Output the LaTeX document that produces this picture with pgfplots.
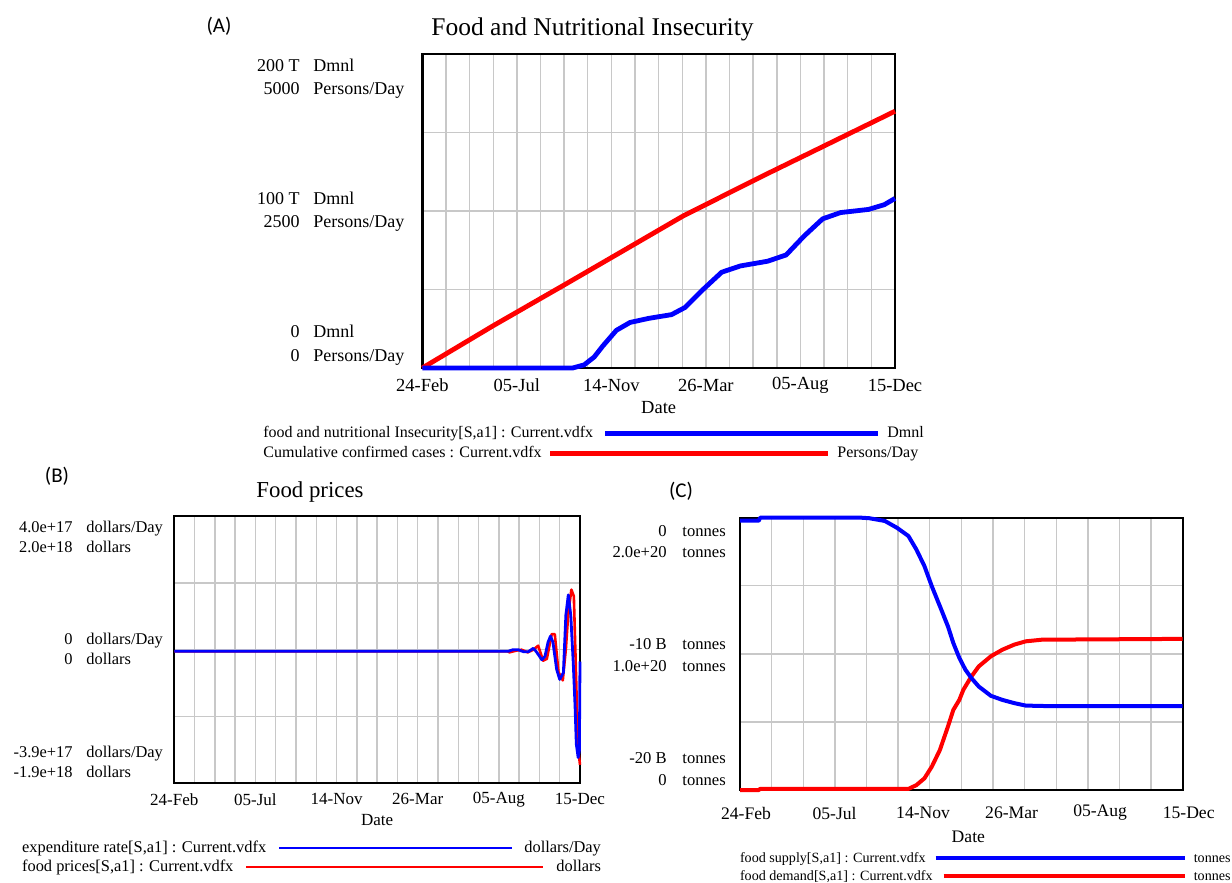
\documentclass[border=0pt]{standalone}
\usepackage{pgfplots}
\pgfplotsset{compat=1.18}
\usepackage{fontspec}
\setmainfont{Liberation Serif}
\newfontfamily\panelfont{Carlito}

\definecolor{vblue}{RGB}{0,0,255}
\definecolor{vred}{RGB}{255,0,0}
\definecolor{vgrid}{RGB}{200,200,200}

\pgfplotsset{
  vensim/.style={
    scale only axis, anchor=south west,
    xmin=0, xmax=660,
    xtick={0,132,264,396,528,660},
    xticklabels={24-Feb,05-Jul,14-Nov,26-Mar,05-Aug,15-Dec},
    major tick length=0pt, minor tick length=0pt,
    xminorgrids, ymajorgrids, xmajorgrids=false,
    minor grid style={vgrid, line width=0.7pt},
    major grid style={vgrid, line width=0.7pt},
    yticklabels={},
    xlabel={Date},
    clip=false,
  },
  vsecond/.style={
    scale only axis, anchor=south west,
    xmin=0, xmax=660, hide axis, clip=false,
  },
}

\begin{document}
\begin{tikzpicture}
\path[use as bounding box] (0,0) rectangle (616pt,-441.5pt);

% ---------------- Panel A ----------------
\begin{axis}[vensim, at={(211.15pt,-184pt)}, width=236.35pt, height=157pt,
  ymin=0, ymax=5000, ytick={0,1250,2500,3750,5000},
  minor xtick={0,33,...,660},
  axis line style={black, line width=1.3pt},
  xticklabel style={font=\fontsize{9.25}{10}\selectfont, anchor=center, yshift=-8.5pt},
  xlabel style={font=\fontsize{9.25}{10}\selectfont, at={(axis description cs:0.5,0)}, anchor=center, yshift=-20pt},
]
\addplot[vred, line width=2.4pt, line join=round] coordinates {
(0,0) (100,680) (200,1335) (284,1890) (364,2420) (475,3056) (560,3530) (660,4089)};
\end{axis}
\begin{axis}[vsecond, at={(211.15pt,-184pt)}, width=236.35pt, height=157pt, ymin=0, ymax=200]
\addplot[vblue, line width=2.4pt, line join=round] coordinates {
(0,0) (210,0) (226,2) (240,7) (252,14) (271,24) (290,29) (316,31.6) (348,34) (367,38.6)
(392,50) (418,61) (444,65) (482,68) (508,72) (533,84) (559,95) (584,99) (623,101) (645,104) (660,108)};
\end{axis}

% ---------------- Panel B ----------------
\begin{axis}[vensim, at={(87.15pt,-391.65pt)}, width=202.85pt, height=133.65pt,
  ymin=-1.95, ymax=2.0, ytick={-1.95,-0.9625,0.025,1.0125,2.0},
  minor xtick={0,33,...,660},
  axis line style={black, line width=1pt},
  xticklabel style={font=\fontsize{8.5}{10}\selectfont, anchor=center, yshift=-8pt},
  xlabel style={font=\fontsize{8.5}{10}\selectfont, at={(axis description cs:0.5,0)}, anchor=center, yshift=-18.5pt},
]
\addplot[vred, line width=1.3pt, line join=round] coordinates {
(0,0) (543,0) (545,-0.015) (556,0.01) (565,0.024) (575,-0.015) (584,0.024) (592,0.083)
(600,-0.137) (606,-0.112) (614,0.254) (619,0.254) (625,-0.307) (632,-0.429) (637,0.034)
(641,0.570) (646,0.912) (650,0.814) (653,-0.161) (655,-0.843) (657,-1.433) (660,-1.677)};
\end{axis}
\begin{axis}[vsecond, at={(87.15pt,-391.65pt)}, width=202.85pt, height=133.65pt, ymin=-3.9, ymax=4.0]
\addplot[vblue, line width=1.4pt, line join=round] coordinates {
(0,0) (543,0) (551,0.05) (559,0.05) (568,-0.01) (576,-0.01) (584,0.09) (589,-0.01)
(598,-0.25) (603,-0.15) (608,0.27) (612,0.45) (616,0.27) (622,-0.53) (627,-0.83) (633,-0.63)
(637,1.07) (641,1.67) (645,1.07) (649,-0.33) (652,-1.63) (654,-2.74) (657,-3.14) (659,-2.94) (660,-0.3)};
\end{axis}

% ---------------- Panel C ----------------
\begin{axis}[vensim, at={(370pt,-395pt)}, width=221.35pt, height=136.15pt,
  ymin=0, ymax=2, ytick={0,0.5,1,1.5,2},
  minor xtick={0,47.14,94.29,141.43,188.57,235.71,282.86,330,377.14,424.29,471.43,518.57,565.71,612.86,660},
  axis line style={black, line width=1pt},
  xticklabel style={font=\fontsize{8.8}{10}\selectfont, anchor=center, yshift=-11.5pt, xshift=3pt},
  xlabel style={font=\fontsize{8.8}{10}\selectfont, at={(axis description cs:0.5,0)}, anchor=center, yshift=-23.3pt, xshift=3.5pt},
]
\addplot[vred, line width=2pt, line join=round] coordinates {
(0,0) (28,0) (30,0.008) (251,0.008) (263,0.036) (275,0.086) (286,0.172) (298,0.294)
(310,0.466) (318,0.588) (327,0.662) (333,0.736) (345,0.834) (356,0.908) (374,0.982)
(391,1.03) (409,1.068) (426,1.092) (450,1.104) (660,1.11)};
\end{axis}
\begin{axis}[vsecond, at={(370pt,-395pt)}, width=221.35pt, height=136.15pt, ymin=-20, ymax=0]
\addplot[vblue, line width=2pt, line join=round] coordinates {
(0,-0.22) (28,-0.22) (30,0) (181,0) (193,-0.04) (216,-0.24) (234,-0.74) (251,-1.34)
(263,-2.34) (275,-3.56) (286,-5.04) (298,-6.5) (310,-7.98) (318,-9.2) (327,-10.3)
(336,-11.16) (345,-11.78) (356,-12.4) (374,-13.08) (391,-13.38) (409,-13.62) (426,-13.8)
(461,-13.84) (660,-13.84)};
\end{axis}

% ---------------- texts (pixel coordinates) ----------------
\begin{scope}[x=0.5pt,y=-0.5pt, every node/.style={inner sep=0pt}]
% panel letters
\node[font=\panelfont\fontsize{10.5}{12}\selectfont] at (219,26) {(A)};
\node[font=\panelfont\fontsize{10.5}{12}\selectfont] at (57,476) {(B)};
\node[font=\panelfont\fontsize{10.5}{12}\selectfont] at (681,491) {(C)};
% titles
\node[font=\fontsize{12.75}{14}\selectfont] at (592.5,29.3) {Food and Nutritional Insecurity};
\node[font=\fontsize{11.4}{13}\selectfont] at (310,492) {Food prices};

% A y labels
\begin{scope}[every node/.style={inner sep=0pt, font=\fontsize{9}{10}\selectfont, text height=0.68em, text depth=0.2em}]
\node[anchor=east] at (300,66.7) {200 T}; \node[anchor=west] at (313,66.7) {Dmnl};
\node[anchor=east] at (300,90) {5000};   \node[anchor=west] at (313,90) {Persons/Day};
\node[anchor=east] at (300,200) {100 T}; \node[anchor=west] at (313,200) {Dmnl};
\node[anchor=east] at (300,223) {2500};  \node[anchor=west] at (313,223) {Persons/Day};
\node[anchor=east] at (300,333) {0};     \node[anchor=west] at (313,333) {Dmnl};
\node[anchor=east] at (300,357) {0};     \node[anchor=west] at (313,357) {Persons/Day};
\end{scope}
% B y labels
\begin{scope}[every node/.style={inner sep=0pt, font=\fontsize{8.2}{10}\selectfont, text height=0.68em, text depth=0.2em}]
\node[anchor=east] at (73,528) {4.0e+17};  \node[anchor=west] at (86,528) {dollars/Day};
\node[anchor=east] at (73,548) {2.0e+18};  \node[anchor=west] at (86,548) {dollars};
\node[anchor=east] at (73,640) {0};        \node[anchor=west] at (86,640) {dollars/Day};
\node[anchor=east] at (73,660) {0};        \node[anchor=west] at (86,660) {dollars};
\node[anchor=east] at (73,753) {-3.9e+17}; \node[anchor=west] at (86,753) {dollars/Day};
\node[anchor=east] at (73,773) {-1.9e+18}; \node[anchor=west] at (86,773) {dollars};
\end{scope}
% C y labels
\begin{scope}[every node/.style={inner sep=0pt, font=\fontsize{8.3}{10}\selectfont, text height=0.68em, text depth=0.2em}]
\node[anchor=east] at (667,532) {0};       \node[anchor=west] at (682,532) {tonnes};
\node[anchor=east] at (667,553) {2.0e+20}; \node[anchor=west] at (682,553) {tonnes};
\node[anchor=east] at (667,645) {-10 B};   \node[anchor=west] at (682,645) {tonnes};
\node[anchor=east] at (667,667) {1.0e+20}; \node[anchor=west] at (682,667) {tonnes};
\node[anchor=east] at (667,759) {-20 B};   \node[anchor=west] at (682,759) {tonnes};
\node[anchor=east] at (667,781) {0};       \node[anchor=west] at (682,781) {tonnes};
\end{scope}

% legends
\begin{scope}[every node/.style={inner sep=0pt, font=\fontsize{8.0}{10}\selectfont, text height=0.68em, text depth=0.2em}]
\node[anchor=west] at (263,433) {food and nutritional Insecurity[S,a1] : Current.vdfx};
\draw[vblue, line width=2.5pt] (605,433) -- (878,433);
\node[anchor=west] at (887,433) {Dmnl};
\node[anchor=west] at (263,453) {Cumulative confirmed cases : Current.vdfx};
\draw[vred, line width=2.5pt] (550,453) -- (828,453);
\node[anchor=west] at (837,453) {Persons/Day};
\end{scope}
\begin{scope}[every node/.style={inner sep=0pt, font=\fontsize{8.2}{10}\selectfont, text height=0.68em, text depth=0.2em}]
\node[anchor=west] at (21.7,848) {expenditure rate[S,a1] : Current.vdfx};
\draw[vblue, line width=1.3pt] (279,848) -- (512,848);
\node[anchor=west] at (524,848) {dollars/Day};
\node[anchor=west] at (21.7,867) {food prices[S,a1] : Current.vdfx};
\draw[vred, line width=1.3pt] (246,867) -- (543,867);
\node[anchor=west] at (556,867) {dollars};
\end{scope}
\begin{scope}[every node/.style={inner sep=0pt, font=\fontsize{7.05}{9}\selectfont, text height=0.68em, text depth=0.2em}]
\node[anchor=west] at (739.6,858) {food supply[S,a1] : Current.vdfx};
\draw[vblue, line width=1.6pt] (935.7,858) -- (1184.7,858);
\node[anchor=east] at (1231,858) {tonnes};
\node[anchor=west] at (739.6,876) {food demand[S,a1] : Current.vdfx};
\draw[vred, line width=1.6pt] (943.5,876) -- (1184.7,876);
\node[anchor=east] at (1231,876) {tonnes};
\end{scope}
\end{scope}
\end{tikzpicture}
\end{document}
